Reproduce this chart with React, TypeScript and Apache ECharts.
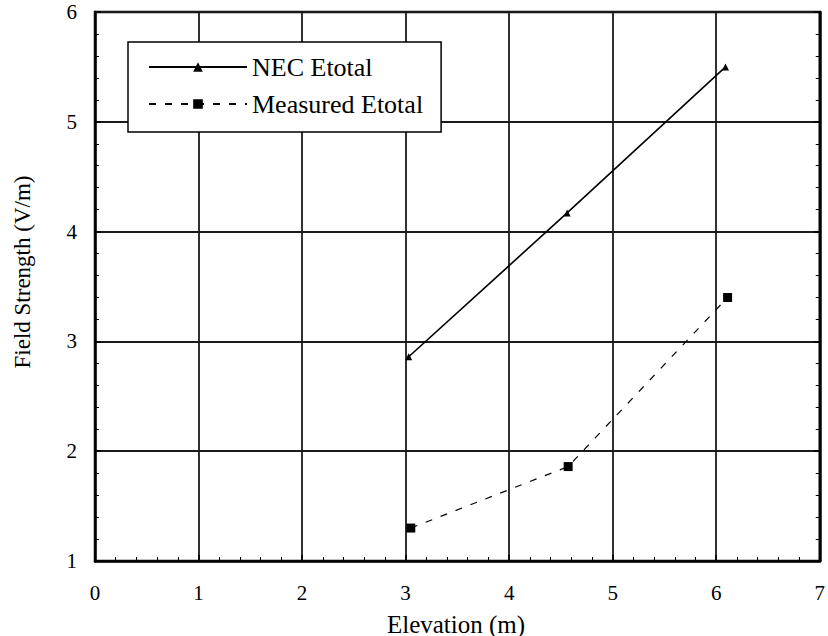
import React, { useEffect, useRef } from "react";
import * as echarts from "echarts";

const necX = [3.03, 4.56, 6.09];
const necY = [2.86, 4.17, 5.5];
const measX = [3.05, 4.57, 6.11];
const measY = [1.3, 1.86, 3.4];
const xTicks = [0, 1, 2, 3, 4, 5, 6, 7];
const yTicks = [1, 2, 3, 4, 5, 6];
const xTitle = "Elevation (m)";
const yTitle = "Field Strength (V/m)";

const FONT = "Liberation Serif";

export default function App() {
  const ref = useRef<HTMLDivElement>(null);
  useEffect(() => {
    if (!ref.current) return;
    const chart = echarts.init(ref.current, null, { renderer: "svg" });
    const axisCommon = {
      axisLine: { show: true, lineStyle: { color: "#000", width: 2.5 } },
      axisTick: { show: true, inside: true, length: 6, lineStyle: { color: "#000", width: 1.5 } },
      minorTick: { show: true, splitNumber: 5, length: 4, lineStyle: { color: "#000", width: 1 } },
      splitLine: { show: true, lineStyle: { color: "#1a1a1a", width: 1.8 } },
    };
    chart.setOption({
      animation: false,
      backgroundColor: "#fff",
      grid: { left: 95, right: 6, top: 12, bottom: 75, show: true, borderColor: "#000", borderWidth: 2.5 },
      xAxis: [
        {
          type: "value",
          min: xTicks[0],
          max: xTicks[xTicks.length - 1],
          interval: 1,
          axisLabel: { fontFamily: FONT, fontSize: 21, color: "#000", margin: 21 },
          ...axisCommon,
        },
      ],
      yAxis: [
        {
          type: "value",
          min: yTicks[0],
          max: yTicks[yTicks.length - 1],
          interval: 1,
          axisLabel: { fontFamily: FONT, fontSize: 21, color: "#000", margin: 18 },
          ...axisCommon,
        },
        {
          type: "value",
          position: "right",
          min: yTicks[0],
          max: yTicks[yTicks.length - 1],
          interval: 1,
          axisLabel: { show: false },
          ...axisCommon,
          splitLine: { show: false },
        },
      ],
      graphic: [
        {
          type: "text",
          x: 456,
          y: 624,
          style: {
            text: xTitle,
            fontFamily: FONT,
            fontSize: 25,
            fill: "#000",
            textAlign: "center",
            textVerticalAlign: "middle",
          },
        },
        {
          type: "text",
          x: 22,
          y: 272,
          rotation: Math.PI / 2,
          style: {
            text: yTitle,
            fontFamily: FONT,
            fontSize: 23,
            fill: "#000",
            textAlign: "center",
            textVerticalAlign: "middle",
          },
        },
      ],
      legend: {
        orient: "vertical",
        left: 128,
        top: 42,
        itemWidth: 98,
        itemHeight: 12,
        itemGap: 11,
        padding: [12, 18, 15, 20],
        borderColor: "#000",
        borderWidth: 1.5,
        backgroundColor: "#fff",
        textStyle: { fontFamily: FONT, fontSize: 26, color: "#000", lineHeight: 26 },
        data: ["NEC Etotal", "Measured Etotal"],
      },
      series: [
        {
          name: "NEC Etotal",
          type: "line",
          data: necX.map((x, i) => [x, necY[i]]),
          symbol: "triangle",
          symbolSize: 7,
          itemStyle: { color: "#000" },
          lineStyle: { color: "#000", width: 1.6 },
          z: 5,
        },
        {
          name: "Measured Etotal",
          type: "line",
          data: measX.map((x, i) => [x, measY[i]]),
          symbol: "rect",
          symbolSize: 9,
          itemStyle: { color: "#000" },
          lineStyle: { color: "#000", width: 1.2, type: [7, 9] },
          z: 5,
        },
      ],
    });
    return () => chart.dispose();
  }, []);
  return (
    <div
      ref={ref}
      style={{ position: "fixed", left: 0, top: 0, width: 828, height: 636, background: "#fff" }}
    />
  );
}
